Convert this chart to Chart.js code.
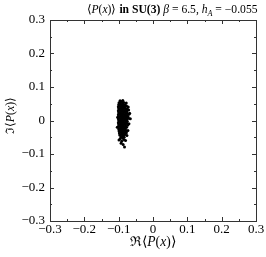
<!DOCTYPE html>
<html><head><meta charset="utf-8">
<script src="https://cdn.jsdelivr.net/npm/chart.js@4"></script>
<style>html,body{margin:0;padding:0;background:#fff}#wrap{width:266px;height:257px}</style>
</head><body><div id="wrap"><canvas id="c" width="266" height="257"></canvas></div>
<script>
// Sample measurements of the Polyakov loop: real and imaginary parts
const realP = [
 -0.096,-0.092,-0.088,
 -0.099,-0.094,-0.089,-0.085,
 -0.100,-0.095,-0.090,-0.086,-0.081,
 -0.101,-0.096,-0.091,-0.086,-0.081,-0.077,
 -0.100,-0.095,-0.090,-0.085,-0.080,-0.075,
 -0.101,-0.096,-0.091,-0.086,-0.081,-0.076,-0.071,
 -0.100,-0.095,-0.090,-0.085,-0.080,-0.075,
 -0.101,-0.096,-0.091,-0.086,-0.081,-0.076,-0.070,
 -0.100,-0.095,-0.090,-0.085,-0.080,-0.075,
 -0.101,-0.096,-0.091,-0.086,-0.081,-0.076,-0.071,
 -0.100,-0.095,-0.090,-0.085,-0.080,-0.075,
 -0.101,-0.096,-0.091,-0.086,-0.081,-0.076,
 -0.100,-0.095,-0.090,-0.085,-0.080,-0.074,
 -0.101,-0.096,-0.091,-0.086,-0.081,-0.077,
 -0.100,-0.095,-0.090,-0.085,-0.080,
 -0.099,-0.094,-0.089,-0.084,-0.079,
 -0.098,-0.093,-0.088,-0.083,-0.078,
 -0.097,-0.092,-0.087,-0.082,
 -0.094,-0.089,-0.084,
 -0.096,-0.085,-0.091,-0.080,-0.093,-0.087,-0.083,-0.099,-0.072,-0.068,
 -0.070,-0.073,-0.103,-0.104,-0.066,-0.076,-0.089,-0.078,
 -0.098,-0.093,-0.083,-0.088,-0.073,-0.078,-0.097,-0.087,-0.092,-0.082
];
const imagP = [
 0.059,0.057,0.060,
 0.053,0.054,0.052,0.054,
 0.047,0.048,0.046,0.048,0.046,
 0.041,0.042,0.040,0.042,0.041,0.043,
 0.035,0.036,0.034,0.036,0.035,0.034,
 0.029,0.030,0.028,0.030,0.029,0.028,0.031,
 0.023,0.024,0.022,0.024,0.023,0.022,
 0.017,0.018,0.016,0.018,0.017,0.016,0.019,
 0.011,0.012,0.010,0.012,0.011,0.010,
 0.005,0.006,0.004,0.006,0.005,0.004,0.007,
 -0.001,0.000,-0.002,0.000,-0.001,-0.002,
 -0.007,-0.006,-0.008,-0.006,-0.007,-0.008,
 -0.013,-0.012,-0.014,-0.012,-0.013,-0.014,
 -0.019,-0.018,-0.020,-0.018,-0.019,-0.020,
 -0.025,-0.024,-0.026,-0.024,-0.025,
 -0.031,-0.030,-0.032,-0.030,-0.031,
 -0.037,-0.036,-0.038,-0.036,-0.037,
 -0.043,-0.042,-0.044,-0.042,
 -0.049,-0.048,-0.050,
 -0.055,-0.057,-0.062,-0.060,-0.068,-0.072,-0.079,-0.058,0.040,0.022,
 -0.010,-0.030,0.010,-0.020,0.005,-0.045,-0.052,0.052,
 0.020,-0.003,0.038,-0.028,0.012,-0.034,0.050,0.008,-0.016,0.026
];
const tickValues = [-0.3,-0.2,-0.1,0,0.1,0.2,0.3];
const tickLabels = ["\u22120.3","\u22120.2","\u22120.1","0","0.1","0.2","0.3"];
const minorValues = [-0.25,-0.15,-0.05,0.05,0.15,0.25];
const titleParts = [
  ['\u27E8',''],['P','italic '],['(',''],['x','italic '],[')\u27E9 ',''],
  ['in SU(3) ','bold '],['\u03B2','italic '],[' = 6.5, ',''],
  ['h','italic '],['A','italic sub'],[' = \u22120.055','']
];
const xTitleParts = [['\u211C\u27E8',''],['P','italic '],['(',''],['x','italic '],[')\u27E9','']];
const yTitleParts = [['\u2111\u27E8',''],['P','italic '],['(',''],['x','italic '],[')\u27E9','']];

const SERIF = "'Liberation Serif','Times New Roman',Times,serif";
const pts = realP.map((r,i)=>({x:r,y:imagP[i]}));

function drawParts(ctx, parts, size, cx, base, fitWidth){
  const fontOf=(p,s)=>{const sub=p[1].includes('sub');const st=p[1].replace('sub','');return st+(sub?s*0.7:s)+'px '+SERIF;};
  const measure=s=>{let t=0;parts.forEach(p=>{ctx.font=fontOf(p,s);t+=ctx.measureText(p[0]).width;});return t;};
  let total=measure(size);
  if(fitWidth){size=size*fitWidth/total;total=measure(size);}
  let x=cx-total/2;
  parts.forEach(p=>{ctx.font=fontOf(p,size);const w=ctx.measureText(p[0]).width;
    ctx.fillText(p[0],x,base+(p[1].includes('sub')?size*0.22:0));x+=w;});
}

const frame = {
  id:'frame',
  afterDraw(chart){
    const ctx=chart.ctx, a=chart.chartArea, xs=chart.scales.x, ys=chart.scales.y;
    ctx.save();
    ctx.strokeStyle='#333'; ctx.lineWidth=1;
    ctx.strokeRect(Math.round(a.left)+0.5,Math.round(a.top)+0.5,Math.round(a.right-a.left),Math.round(a.bottom-a.top));
    ctx.beginPath();
    const tick=(v,len)=>{
      const px=Math.round(xs.getPixelForValue(v))+0.5;
      ctx.moveTo(px,a.bottom);ctx.lineTo(px,a.bottom-len);
      ctx.moveTo(px,a.top);ctx.lineTo(px,a.top+len);
      const py=Math.round(ys.getPixelForValue(v))+0.5;
      ctx.moveTo(a.left,py);ctx.lineTo(a.left+len,py);
      ctx.moveTo(a.right,py);ctx.lineTo(a.right-len,py);
    };
    tickValues.forEach(v=>tick(v,4));
    minorValues.forEach(v=>tick(v,2));
    ctx.stroke();
    ctx.fillStyle='#000'; ctx.textBaseline='alphabetic'; ctx.textAlign='left';
    drawParts(ctx,titleParts,13,172,13,170);
    const cx=(a.left+a.right)/2;
    drawParts(ctx,xTitleParts,12,cx,246,46);
    ctx.save();
    ctx.translate(14,(a.top+a.bottom)/2-5);
    ctx.rotate(-Math.PI/2);
    drawParts(ctx,yTitleParts,12,0,0,37);
    ctx.restore();
    ctx.restore();
  }
};

new Chart(document.getElementById('c'),{
  type:'scatter',
  data:{datasets:[{data:pts,backgroundColor:'#000',borderWidth:0,pointRadius:1.5,pointHoverRadius:1.5}]},
  options:{
    responsive:false,animation:false,devicePixelRatio:1,
    layout:{padding:{top:20,right:10,left:0,bottom:0}},
    plugins:{legend:{display:false},tooltip:{enabled:false},title:{display:false}},
    scales:{
      x:{type:'linear',min:-0.3,max:0.3,
        afterBuildTicks(s){s.ticks=tickValues.map(v=>({value:v}));},
        afterFit(s){s.height=36;s.paddingRight=0;s.paddingLeft=0;},
        grid:{display:false,drawTicks:false},border:{display:false},
        ticks:{padding:1,color:'#000',font:{family:SERIF,size:13},maxRotation:0,autoSkip:false,
          callback:(v,i)=>tickLabels[i]}
      },
      y:{type:'linear',min:-0.3,max:0.3,
        afterBuildTicks(s){s.ticks=tickValues.map(v=>({value:v}));},
        afterFit(s){s.width=50;},
        grid:{display:false,drawTicks:false},border:{display:false},
        ticks:{padding:5,color:'#000',font:{family:SERIF,size:13},autoSkip:false,
          callback:(v,i)=>tickLabels[i]}
      }
    }
  },
  plugins:[frame]
});
</script></body></html>
